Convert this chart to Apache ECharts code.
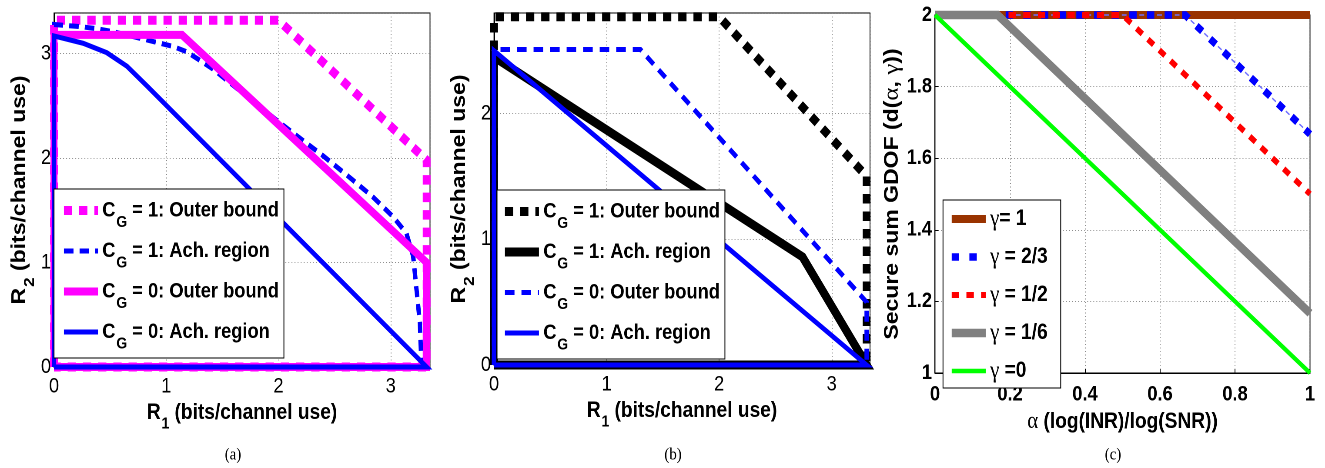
<!DOCTYPE html>
<html><head><meta charset="utf-8">
<script src="https://cdn.jsdelivr.net/npm/echarts@6/dist/echarts.min.js"></script>
<style>
html,body{margin:0;padding:0;background:#fff}
#wrap{width:1325px;height:468px;overflow:hidden;position:relative}
#c{width:1523px;height:468px;transform:scaleX(0.87);transform-origin:0 0}
</style>
</head><body><div id="wrap"><div id="c"></div></div>
<script>
// ---------------- data ----------------
// panel (a)
const aNames = ['C_G = 1: Outer bound', 'C_G = 1: Ach. region', 'C_G = 0: Outer bound', 'C_G = 0: Ach. region'];
const aCG1Outer = [[0,0],[0,3.32],[2.0,3.32],[3.32,1.98],[3.32,0],[0,0]];
const aCG1Ach = [[0,0],[0,3.28],[0.23,3.26],[0.38,3.24],[0.53,3.21],[0.91,3.11],[1.06,3.07],[1.18,3.02],[1.31,2.93],[1.42,2.85],[2.01,2.34],[2.40,2.02],[2.64,1.81],[2.84,1.63],[3.02,1.44],[3.14,1.28],[3.20,1.06],[3.23,0.74],[3.26,0.42],[3.27,0.13],[3.28,0],[0,0]];
const aCG0Outer = [[0,0],[0,3.18],[1.14,3.18],[3.32,1.0],[3.32,0],[0,0]];
const aCG0Ach = [[0,0],[0,3.17],[0.26,3.10],[0.47,3.01],[0.65,2.88],[0.83,2.69],[3.32,0],[0,0]];
const aXRange = [0, 3.35];
const aYRange = [0, 3.39];
// panel (b)
const bNames = ['C_G = 1: Outer bound', 'C_G = 1: Ach. region', 'C_G = 0: Outer bound', 'C_G = 0: Ach. region'];
const bCG1Outer = [[0,0],[0,2.77],[2.0,2.77],[3.31,1.5],[3.31,0],[0,0]];
const bCG1Ach = [[0,0],[0,2.45],[2.74,0.86],[3.31,0],[0,0]];
const bCG0Outer = [[0,0],[0,2.51],[1.3,2.51],[3.31,0.5],[3.31,0],[0,0]];
const bCG0Ach = [[0,0],[0,2.5],[3.31,0],[0,0]];
const bXRange = [0, 3.34];
const bYRange = [0, 2.8];
// panel (c)
const cNames = ['γ= 1', 'γ = 2/3', 'γ = 1/2', 'γ = 1/6', 'γ =0'];
const cGamma1 = [[0,2],[1,2]];
const cGamma23 = [[0,2],[0.667,2],[1,1.667]];
const cGamma12 = [[0,2],[0.5,2],[1,1.5]];
const cGamma16 = [[0,2],[0.167,2],[1,1.167]];
const cGamma0 = [[0,2],[1,1]];
const cXRange = [0, 1];
const cYRange = [1, 2];
const captions = ['(a)', '(b)', '(c)'];

// ---------------- layout helpers ----------------
// the figure is drawn wider and squeezed horizontally (like the reference image)
const S = 0.87;
const X = v => v / S;
const SANS = '"Liberation Sans", Arial, Helvetica, sans-serif';
const SERIF = '"Liberation Serif", "Times New Roman", serif';

function ln(name, data, gi, color, width, type, extra) {
  return Object.assign({
    type: 'line', name: name, data: data, xAxisIndex: gi, yAxisIndex: gi,
    symbol: 'none', showSymbol: false, silent: true, animation: false, clip: true,
    lineStyle: { color: color, width: width, type: type, cap: 'butt', join: 'miter' },
    itemStyle: { color: color }, emphasis: { disabled: true }
  }, extra || {});
}

const gridLine = { show: true, lineStyle: { color: '#8a8a8a', width: 1, type: [1, 2.5] } };
function xAx(gi, range, interval, bold, margin, name, nameGap, rich, showMax) {
  return {
    type: 'value', gridIndex: gi, min: range[0], max: range[1], interval: interval,
    axisLine: { show: true, onZero: false, lineStyle: { color: '#000', width: 1 } },
    axisTick: { show: true, inside: true, length: 4, lineStyle: { color: '#000' } },
    splitLine: gridLine,
    axisLabel: { color: '#000', fontFamily: SANS, fontSize: 21, fontWeight: bold ? 'bold' : 'normal', margin: margin, showMaxLabel: showMax },
    name: name, nameLocation: 'middle', nameGap: nameGap,
    nameTextStyle: { color: '#000', rich: rich }
  };
}
function yAx(gi, range, interval, bold, name, nameGap, rich, showMax) {
  return {
    type: 'value', gridIndex: gi, min: range[0], max: range[1], interval: interval,
    axisLine: { show: true, onZero: false, lineStyle: { color: '#000', width: 1 } },
    axisTick: { show: true, inside: true, length: 4, lineStyle: { color: '#000' } },
    splitLine: gridLine,
    axisLabel: { color: '#000', fontFamily: SANS, fontSize: 21, fontWeight: bold ? 'bold' : 'normal', margin: X(3), showMaxLabel: showMax },
    name: name, nameLocation: 'middle', nameGap: nameGap, nameRotate: 90,
    nameTextStyle: { color: '#000', rich: rich }
  };
}

const richH = {
  b: { fontFamily: SANS, fontWeight: 'bold', fontSize: 22, color: '#000' },
  s: { fontFamily: SANS, fontWeight: 'bold', fontSize: 16, color: '#000', padding: [22, 0, 0, 1] }
};
const richV = {
  b: { fontFamily: SANS, fontWeight: 'bold', fontSize: 23, color: '#000' },
  s: { fontFamily: SANS, fontWeight: 'bold', fontSize: 17, color: '#000', padding: [23, 0, 0, 1] }
};
const richCH = {
  b: { fontFamily: SANS, fontWeight: 'bold', fontSize: 22, color: '#000' },
  g: { fontFamily: SERIF, fontWeight: 'normal', fontSize: 24, color: '#000' }
};
const richCV = {
  b: { fontFamily: SANS, fontWeight: 'bold', fontSize: 23, color: '#000' },
  g: { fontFamily: SERIF, fontWeight: 'normal', fontSize: 25, color: '#000' }
};
const richLeg = {
  b: { fontFamily: SANS, fontWeight: 'bold', fontSize: 21, color: '#000', lineHeight: 24 },
  s: { fontFamily: SANS, fontWeight: 'bold', fontSize: 16, color: '#000', padding: [24, 0, 0, 1] }
};
const richLegC = {
  b: { fontFamily: SANS, fontWeight: 'bold', fontSize: 22, color: '#000', lineHeight: 24 },
  g: { fontFamily: SERIF, fontWeight: 'normal', fontSize: 24, color: '#000', lineHeight: 24 }
};

// series ids carry a panel prefix so legends of (a) and (b) stay separate
const aIds = aNames.map(n => 'a|' + n);
const bIds = bNames.map(n => 'b|' + n);
const cIds = cNames.map(n => 'c|' + n);
function legCG(id) { const n = id.slice(2); return '{b|C}{s|G}{b|' + n.slice(3) + '}'; }
function legGamma(id) { const n = id.slice(2); return '{g|γ}{b|' + n.slice(1) + '}'; }

function legend(ids, left, top, pad, gap, fmt, rich) {
  return {
    data: ids, orient: 'vertical', left: left, top: top, padding: pad, itemGap: gap, align: 'left',
    itemWidth: X(34), itemHeight: 14, borderColor: '#000', borderWidth: 1, borderRadius: 0,
    backgroundColor: '#fff', selectedMode: false, formatter: fmt,
    textStyle: { rich: rich }, lineStyle: { width: 'inherit' }, itemStyle: { opacity: 0 }
  };
}

const cClip = { clip: false };
const option = {
  animation: false,
  backgroundColor: '#fff',
  grid: [
    { left: X(54), top: 13, width: X(376), height: 354, show: true, borderColor: '#000', borderWidth: 1, backgroundColor: 'transparent' },
    { left: X(494), top: 13, width: X(376), height: 352, show: true, borderColor: '#000', borderWidth: 1, backgroundColor: 'transparent' },
    { left: X(935), top: 15, width: X(375), height: 358, show: true, borderColor: '#000', borderWidth: 1, backgroundColor: 'transparent' }
  ],
  xAxis: [
    xAx(0, aXRange, 1, false, 9, '{b|R}{s|1}{b| (bits/channel use)}', 25, richH, false),
    xAx(1, bXRange, 1, false, 9, '{b|R}{s|1}{b| (bits/channel use)}', 25, richH, false),
    xAx(2, cXRange, 0.2, true, 11, '{g|α}{b| (log(INR)/log(SNR))}', 34, richCH, true)
  ],
  yAxis: [
    yAx(0, aYRange, 1, false, '{b|R}{s|2}{b| (bits/channel use)}', 19.5, richV, false),
    yAx(1, bYRange, 1, false, '{b|R}{s|2}{b| (bits/channel use)}', 19.5, richV, false),
    yAx(2, cYRange, 0.2, true, '{b|Secure sum GDOF (d(}{g|α}{b|, }{g|γ}{b|))}', 29, richCV, true)
  ],
  legend: [
    legend(aIds, X(54), 189, [11, X(5), 6, X(6)], 10, legCG, richLeg),
    legend(bIds, X(497), 190, [11, X(5), 6, X(4)], 10, legCG, richLeg),
    legend(cIds, X(943), 200, [7, X(13), 5, X(5)], 14, legGamma, richLegC)
  ],
  series: [
    ln(aIds[0], aCG1Outer, 0, '#ff00ff', 9, [9.5, 8]),
    ln(aIds[1], aCG1Ach, 0, '#0000ff', 5, [11, 7]),
    ln(aIds[2], aCG0Outer, 0, '#ff00ff', 8, 'solid'),
    ln(aIds[3], aCG0Ach, 0, '#0000ff', 5, 'solid'),
    ln(bIds[0], bCG1Outer, 1, '#000000', 9, [9.5, 8]),
    ln(bIds[1], bCG1Ach, 1, '#000000', 9, 'solid'),
    ln(bIds[2], bCG0Outer, 1, '#0000ff', 5, [11, 8]),
    ln(bIds[3], bCG0Ach, 1, '#0000ff', 5, 'solid'),
    ln(cIds[0], cGamma1, 2, '#993300', 8, 'solid', cClip),
    ln(cIds[1], cGamma23, 2, '#0000ff', 7.5, [8.5, 11.8], cClip),
    ln('', cGamma23, 2, '#6f6fff', 1.5, 'solid', { clip: false, lineStyle: { color: '#6f6fff', width: 1.5, type: [5.5, 14.8], dashOffset: 8.65, cap: 'butt' } }),
    ln(cIds[2], cGamma12, 2, '#ff0000', 6, [8.5, 8.4], cClip),
    ln(cIds[3], cGamma16, 2, '#808080', 8.5, 'solid', cClip),
    ln(cIds[4], cGamma0, 2, '#00ff00', 4.5, 'solid', cClip)
  ],
  graphic: [
    { type: 'text', x: X(233), y: 455, style: { text: captions[0], font: '17px ' + SERIF, fill: '#000', align: 'center', verticalAlign: 'middle' } },
    { type: 'text', x: X(673), y: 455, style: { text: captions[1], font: '17px ' + SERIF, fill: '#000', align: 'center', verticalAlign: 'middle' } },
    { type: 'text', x: X(1113), y: 455, style: { text: captions[2], font: '17px ' + SERIF, fill: '#000', align: 'center', verticalAlign: 'middle' } }
  ]
};

const chart = echarts.init(document.getElementById('c'), null, { renderer: 'canvas', devicePixelRatio: 2 });
chart.setOption(option);
</script>
</body></html>
